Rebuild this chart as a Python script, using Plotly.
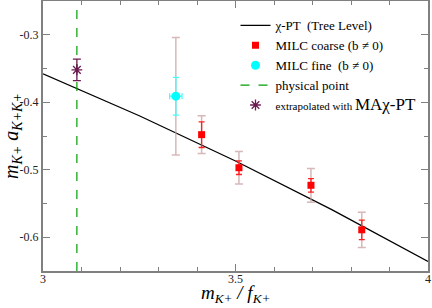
import plotly.graph_objects as go

# Tree-level chi-PT curve (read points)
line_x = [3.0, 3.25, 3.5, 3.75, 4.0]
line_y = [-0.358, -0.420, -0.487, -0.559, -0.636]

# MILC coarse
coarse_x = [3.412, 3.509, 3.696, 3.828]
coarse_y = [-0.448, -0.497, -0.523, -0.589]
coarse_err_stat = [0.019, 0.010, 0.010, 0.0145]
coarse_err_tot = [0.028, 0.024, 0.025, 0.026]

# MILC fine
fine_x = [3.345]
fine_y = [-0.391]
fine_err_stat = [0.028]
fine_err_tot = [0.087]
fine_err_x = [0.016]

# physical point
phys_x = 3.088
y_range = [-0.65, -0.25]

# extrapolated
extra_x = [3.088]
extra_y = [-0.352]
extra_err = [0.016]

y_tickvals = [-0.6, -0.5, -0.4, -0.3]
y_ticktext = ["-0.6", "-0.5", "-0.4", "-0.3"]
x_tickvals = [3, 3.5, 4]
x_ticktext = ["3", "3.5", "4"]

SERIF = "Liberation Serif"
ERRC = "rgba(200,160,160,0.75)"

fig = go.Figure()

fig.add_trace(go.Scatter(x=line_x, y=line_y, mode="lines", line=dict(color="black", width=1.3),
                         name="χ-PT  (Tree Level)"))

# outer (total) error bars
fig.add_trace(go.Scatter(x=coarse_x, y=coarse_y, mode="markers", marker=dict(size=1, color="rgba(0,0,0,0)"),
                         error_y=dict(type="data", array=coarse_err_tot, color=ERRC, thickness=1.5, width=4),
                         showlegend=False, hoverinfo="skip"))
fig.add_trace(go.Scatter(x=fine_x, y=fine_y, mode="markers", marker=dict(size=1, color="rgba(0,0,0,0)"),
                         error_y=dict(type="data", array=fine_err_tot, color=ERRC, thickness=1.5, width=4),
                         showlegend=False, hoverinfo="skip"))

fig.add_trace(go.Scatter(x=coarse_x, y=coarse_y, mode="markers",
                         marker=dict(symbol="square", size=7, color="#ff0000"),
                         error_y=dict(type="data", array=coarse_err_stat, color="#ff2020", thickness=1.3, width=3),
                         name="MILC coarse (b ≠ 0)"))
fig.add_trace(go.Scatter(x=fine_x, y=fine_y, mode="markers",
                         marker=dict(symbol="circle", size=9, color="#00ffff"),
                         error_y=dict(type="data", array=fine_err_stat, color="#40ffff", thickness=1.3, width=3),
                         error_x=dict(type="data", array=fine_err_x, color="#40ffff", thickness=1.3, width=3),
                         name="MILC fine  (b ≠ 0)"))
fig.add_trace(go.Scatter(x=[phys_x, phys_x], y=y_range, mode="lines",
                         line=dict(color="#00a000", width=1.2, dash="dash"),
                         name="physical point"))
fig.add_trace(go.Scatter(x=extra_x, y=extra_y, mode="markers",
                         marker=dict(symbol="asterisk-open", size=9, color="#6b1a50",
                                     line=dict(color="#6b1a50", width=1.3)),
                         error_y=dict(type="data", array=extra_err, color="#6b1a50", thickness=1.3, width=4),
                         name='<span style="font-size:11px">extrapolated with </span><span style="font-size:17px">MAχ-PT</span>'))

axis_common = dict(showline=True, linecolor="#808080", linewidth=2, mirror="ticks",
                   ticks="inside", tickcolor="#808080", tickwidth=1.2, ticklen=7,
                   showgrid=False, zeroline=False, automargin=False,
                   tickfont=dict(family=SERIF, size=12, color="#222"))

fig.update_xaxes(range=[3, 4], tickvals=x_tickvals, ticktext=x_ticktext, ticklabelstandoff=-4,
                 minor=dict(dtick=0.1, tick0=3, ticks="inside", ticklen=4, tickcolor="#808080", showgrid=False),
                 **axis_common)
fig.update_yaxes(range=y_range, tickvals=y_tickvals, ticktext=y_ticktext,
                 minor=dict(dtick=0.05, tick0=-0.65, ticks="inside", ticklen=4, tickcolor="#808080", showgrid=False),
                 title=dict(text="<i>m</i><sub><i>K+</i></sub> <i>a</i><sub><i>K+K+</i></sub>",
                            font=dict(family=SERIF, size=20, color="black"), standoff=0),
                 **axis_common)

fig.add_annotation(text="<i>m</i><sub><i>K+</i></sub><i> / f</i><sub><i>K+</i></sub>",
                   xref="paper", yref="paper", x=0.5, y=-0.035, xanchor="center", yanchor="top",
                   showarrow=False, font=dict(family=SERIF, size=19, color="black"))

fig.update_layout(
    width=432, height=308,
    margin=dict(l=43, r=4, t=1, b=37, autoexpand=False),
    plot_bgcolor="white", paper_bgcolor="white",
    font=dict(family=SERIF, size=13, color="black"),
    legend=dict(x=0.50, y=0.965, xanchor="left", yanchor="top", bgcolor="rgba(0,0,0,0)",
                borderwidth=0, font=dict(family=SERIF, size=13, color="black"),
                tracegroupgap=0, itemwidth=30),
    showlegend=True,
)

fig.write_html("out.html", config={"displayModeBar": False},
               post_script="document.body.style.margin='0px';document.body.style.overflow='hidden';")
